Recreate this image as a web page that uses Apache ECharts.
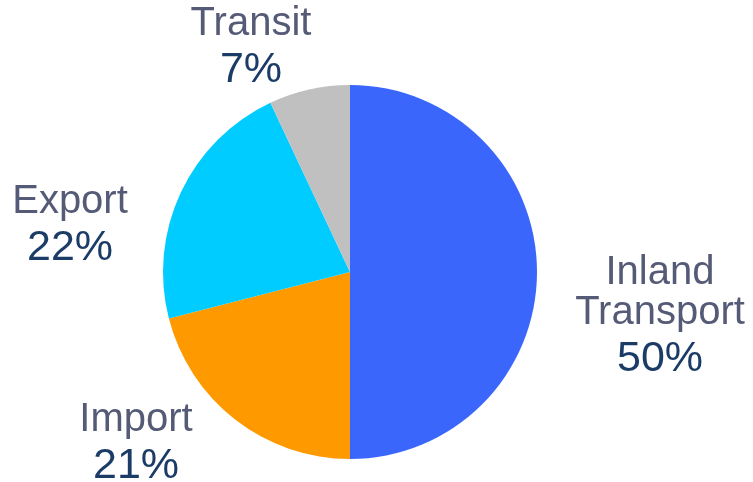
<!DOCTYPE html>
<html>
<head>
<meta charset="utf-8">
<style>
  html, body { margin: 0; padding: 0; background: #ffffff; }
  #chart { width: 753px; height: 482px; }
</style>
<script src="https://cdn.jsdelivr.net/npm/echarts@6/dist/echarts.min.js"></script>
</head>
<body>
<div id="chart"></div>
<script>
// 数据
const categories = ['Inland\nTransport', 'Import', 'Export', 'Transit'];
const shares = [50, 21, 22, 7];
const sliceColors = ['#3a66fb', '#ff9900', '#00ccff', '#c0c0c0'];

// 标签位置 (label centres)
const labelSpots = [[660, 319], [136, 446], [70, 228], [251, 50]];

const chart = echarts.init(document.getElementById('chart'));

chart.setOption({
    animation: false,
    series: [{
        type: 'pie',
        center: [350, 272],
        radius: 187,
        startAngle: 90,
        clockwise: true,
        label: {
            show: true,
            position: 'outside',
            overflow: 'none',
            fontFamily: 'Liberation Sans',
            formatter: function (p) {
                const lines = p.name.split('\n').map(s => '{n|' + s + '}');
                return lines.join('\n') + '\n{p|' + p.value + '%}';
            },
            rich: {
                n: { fontSize: 40, color: '#555a76', lineHeight: 40, fontFamily: 'Liberation Sans' },
                p: { fontSize: 43, color: '#1c3c68', lineHeight: 52, fontFamily: 'Liberation Sans' }
            }
        },
        labelLine: { show: false },
        labelLayout: function (params) {
            const spot = labelSpots[params.dataIndex];
            return { x: spot[0], y: spot[1], align: 'center', verticalAlign: 'middle' };
        },
        data: categories.map((c, i) => ({
            name: c,
            value: shares[i],
            itemStyle: { color: sliceColors[i] }
        }))
    }]
});
</script>
</body>
</html>
